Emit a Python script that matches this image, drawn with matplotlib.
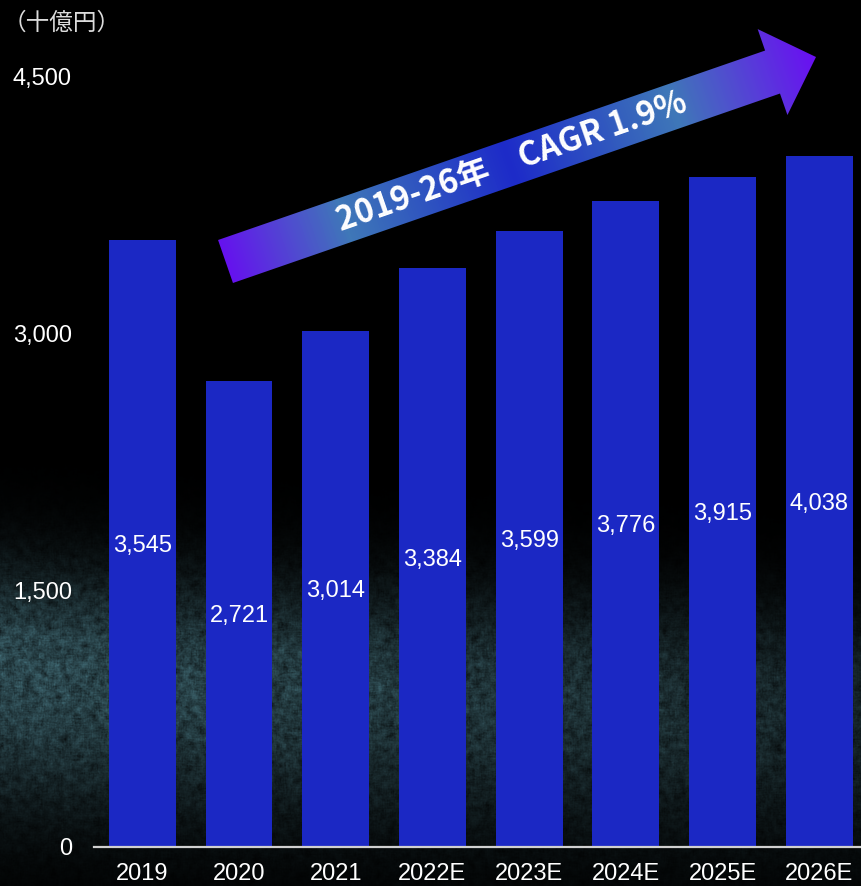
import numpy as np
import matplotlib
matplotlib.use("Agg")
import matplotlib.pyplot as plt
from matplotlib.patches import Polygon
from matplotlib.colors import LinearSegmentedColormap

# ---- data ----
years = ["2019", "2020", "2021", "2022E", "2023E", "2024E", "2025E", "2026E"]
values = [3545, 2721, 3014, 3384, 3599, 3776, 3915, 4038]
y_ticks = [0, 1500, 3000, 4500]
unit_label = "（十億円）"
cagr_label = "2019-26年\u3000CAGR 1.9%"

W, H, DPI = 861, 886, 100
LATIN = ["Liberation Sans", "DejaVu Sans"]
CJK = ["Noto Sans CJK JP", "DejaVu Sans"]

fig = plt.figure(figsize=(W / DPI, H / DPI), dpi=DPI, facecolor="black")


def box_blur(a, k):
    out = np.zeros_like(a)
    for i in range(k):
        for j in range(k):
            out += np.roll(np.roll(a, i, 0), j, 1)
    out /= k * k
    return out / out.std()


# ---- dark backdrop with a mottled teal glow in the lower half ----
bg = fig.add_axes([0, 0, 1, 1], zorder=0)
bg.set_axis_off()
yy, xx = np.mgrid[0:H, 0:W].astype(float)
xn = xx / W
yc = 668 + 40 * xn
spread = np.where(yy < yc, 68.0, 92.0)
amp = 1.0 - 0.5 * xn
glow = amp * np.exp(-0.5 * ((yy - yc) / spread) ** 2)
rng = np.random.default_rng(7)
coarse = box_blur(rng.normal(0.0, 1.0, (H, W)), 6)
fine = box_blur(rng.normal(0.0, 1.0, (H, W)), 2)
grain = 1.0 + 0.14 * coarse + 0.07 * fine
base = np.array([44, 72, 79]) / 255.0
img = np.clip(glow[..., None] * base * grain[..., None], 0, 1)
bg.imshow(img, extent=(0, W, H, 0), aspect="auto", interpolation="bilinear")
bg.set_xlim(0, W)
bg.set_ylim(H, 0)

# ---- bar chart ----
step = 96.7
ax = fig.add_axes([94 / W, 1 - 846.5 / H, step * 8 / W, 769.5 / H], zorder=1)
ax.patch.set_alpha(0)
x = np.arange(len(years))
bars = ax.bar(x, values, width=0.69, color="#1B28C4", zorder=2)
labels = ax.bar_label(bars, labels=[f"{v:,}" for v in values],
                      label_type="center", color="white", fontsize=17,
                      family=LATIN)
for lab in labels:
    lab.set_va("center_baseline")
ax.set_xlim(-0.5, len(years) - 0.5)
ax.set_ylim(0, 4500)
ax.set_yticks(y_ticks, [f"{v:,}" for v in y_ticks])
ax.set_xticks(x, years)
ax.tick_params(length=0, labelsize=17, colors="white")
ax.tick_params(axis="y", pad=16)
ax.tick_params(axis="x", pad=12)
for lab in ax.get_xticklabels() + ax.get_yticklabels():
    lab.set_family(LATIN)
for side in ("top", "right", "left"):
    ax.spines[side].set_visible(False)
ax.spines["bottom"].set_color("#d0d0d0")
ax.spines["bottom"].set_linewidth(1.6)
ax.spines["bottom"].set_zorder(3)

# ---- overlay: growth arrow and unit label ----
ov = fig.add_axes([0, 0, 1, 1], zorder=3)
ov.set_axis_off()
ov.set_xlim(0, W)
ov.set_ylim(H, 0)
ov.patch.set_alpha(0)

tail = np.array([225.5, 261.5])
tip = np.array([816.0, 57.0])
shaft_w, head_w, head_len = 45.5, 91.0, 46.0
L = np.linalg.norm(tip - tail)
d = (tip - tail) / L
n = np.array([-d[1], d[0]])
head_base = tip - d * head_len
pts = [tail + n * shaft_w / 2, head_base + n * shaft_w / 2,
       head_base + n * head_w / 2, tip, head_base - n * head_w / 2,
       head_base - n * shaft_w / 2, tail - n * shaft_w / 2]
arrow = Polygon(pts, closed=True, facecolor="none", edgecolor="none")
ov.add_patch(arrow)

grad_cmap = LinearSegmentedColormap.from_list(
    "arrow_grad",
    [(0.0, "#6512EE"), (0.2, "#3F78B8"), (0.48, "#1D2BC9"),
     (0.76, "#3F78B8"), (1.0, "#6A0FF2")])
t = ((xx - tail[0]) * d[0] + (yy - tail[1]) * d[1]) / L
grad = ov.imshow(grad_cmap(np.clip(t, 0, 1)), extent=(0, W, H, 0),
                 aspect="auto", interpolation="bilinear", zorder=1)
grad.set_clip_path(arrow)

angle = np.degrees(np.arctan2(-d[1], d[0]))
tc = tail + 0.485 * (tip - tail)
ov.text(tc[0], tc[1], cagr_label, rotation=angle, rotation_mode="anchor",
        ha="center", va="center", color="white", fontsize=23.5,
        fontweight="bold", family=CJK, zorder=2)

ov.text(3, 23, unit_label, ha="left", va="center", fontsize=17,
        color="#dcdcdc", family=CJK)

fig.savefig("out.png", dpi=DPI, facecolor="black")
